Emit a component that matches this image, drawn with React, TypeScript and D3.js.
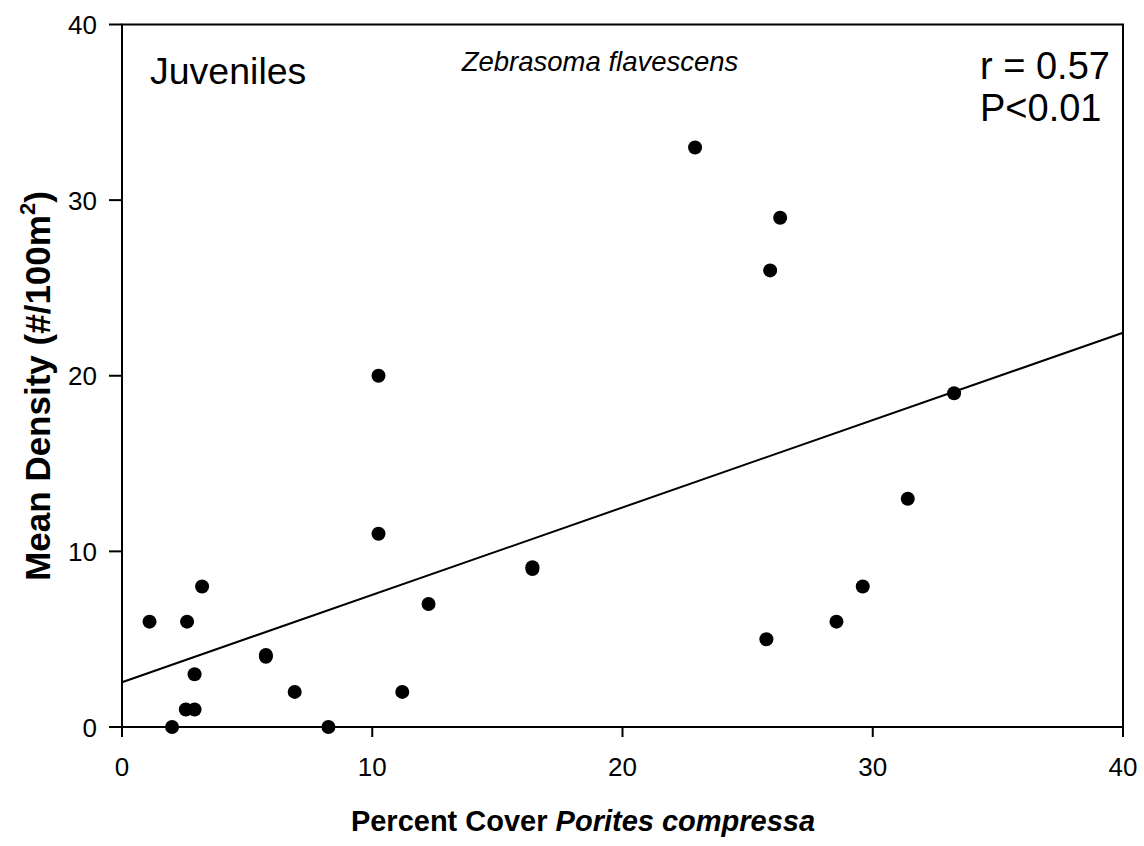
import React from "react";
import * as d3 from "d3";

const coverX: number[] = [1.1, 2.0, 2.6, 2.55, 2.9, 2.9, 3.2, 5.75, 5.75, 6.9, 8.25, 10.25, 10.25, 11.2, 12.25, 16.4, 16.4, 22.9, 25.75, 25.9, 26.3, 28.55, 29.6, 31.4, 33.25];
const densityY: number[] = [6, 0, 6, 1, 1, 3, 8, 4, 4.1, 2, 0, 20, 11, 2, 7, 9, 9.1, 33, 5, 26, 29, 6, 8, 13, 19];
const regX: number[] = [0, 40];
const regY: number[] = [2.55, 22.45];
const xTicks: number[] = [0, 10, 20, 30, 40];
const yTicks: number[] = [0, 10, 20, 30, 40];

const W = 1144;
const H = 846;
const M = { left: 122, right: 1123, top: 24.5, bottom: 727 };
const FONT = "Arial, 'Liberation Sans', Helvetica, sans-serif";

export default function App() {
  const x = d3.scaleLinear().domain([0, 40]).range([M.left, M.right]);
  const y = d3.scaleLinear().domain([0, 40]).range([M.bottom, M.top]);
  const line = d3
    .line<number>()
    .x((_, i) => x(regX[i]))
    .y((d) => y(d));

  return (
    <svg
      width={W}
      height={H}
      style={{ position: "absolute", left: 0, top: 0, background: "#fff" }}
      fontFamily={FONT}
    >
      <rect x={0} y={0} width={W} height={H} fill="#fff" />
      <rect
        x={M.left}
        y={M.top}
        width={M.right - M.left}
        height={M.bottom - M.top}
        fill="none"
        stroke="#000"
        strokeWidth={2}
      />
      {xTicks.map((t) => (
        <g key={"x" + t}>
          <line x1={x(t)} x2={x(t)} y1={M.bottom} y2={M.bottom + 10} stroke="#000" strokeWidth={2} />
          <text x={x(t)} y={M.bottom + 49} textAnchor="middle" fontSize={26} fill="#000">
            {t}
          </text>
        </g>
      ))}
      {yTicks.map((t) => (
        <g key={"y" + t}>
          <line x1={M.left - 13} x2={M.left} y1={y(t)} y2={y(t)} stroke="#000" strokeWidth={2} />
          <text x={M.left - 25} y={y(t) + 9.5} textAnchor="end" fontSize={26} fill="#000">
            {t}
          </text>
        </g>
      ))}
      <path d={line(regY) || ""} fill="none" stroke="#000" strokeWidth={2} />
      {coverX.map((cx, i) => (
        <circle key={i} cx={x(cx)} cy={y(densityY[i])} r={7} fill="#000" />
      ))}
      <text x={150} y={84} fontSize={37.5} fill="#000">Juveniles</text>
      <text x={600} y={71} textAnchor="middle" fontSize={27.5} fontStyle="italic" fill="#000">
        Zebrasoma flavescens
      </text>
      <text x={980} y={79} fontSize={38} fill="#000">r = 0.57</text>
      <text x={980} y={121} fontSize={38} fill="#000">P&lt;0.01</text>
      <text x={583} y={831} textAnchor="middle" fontSize={29} fontWeight="bold" fill="#000">
        Percent Cover <tspan fontStyle="italic">Porites compressa</tspan>
      </text>
      <text
        transform={`translate(50, 386) rotate(-90)`}
        textAnchor="middle"
        fontSize={35}
        fontWeight="bold"
        fill="#000"
      >
        Mean Density (#/100m<tspan fontSize={22} dy={-15}>2</tspan><tspan dy={15}>)</tspan>
      </text>
    </svg>
  );
}
